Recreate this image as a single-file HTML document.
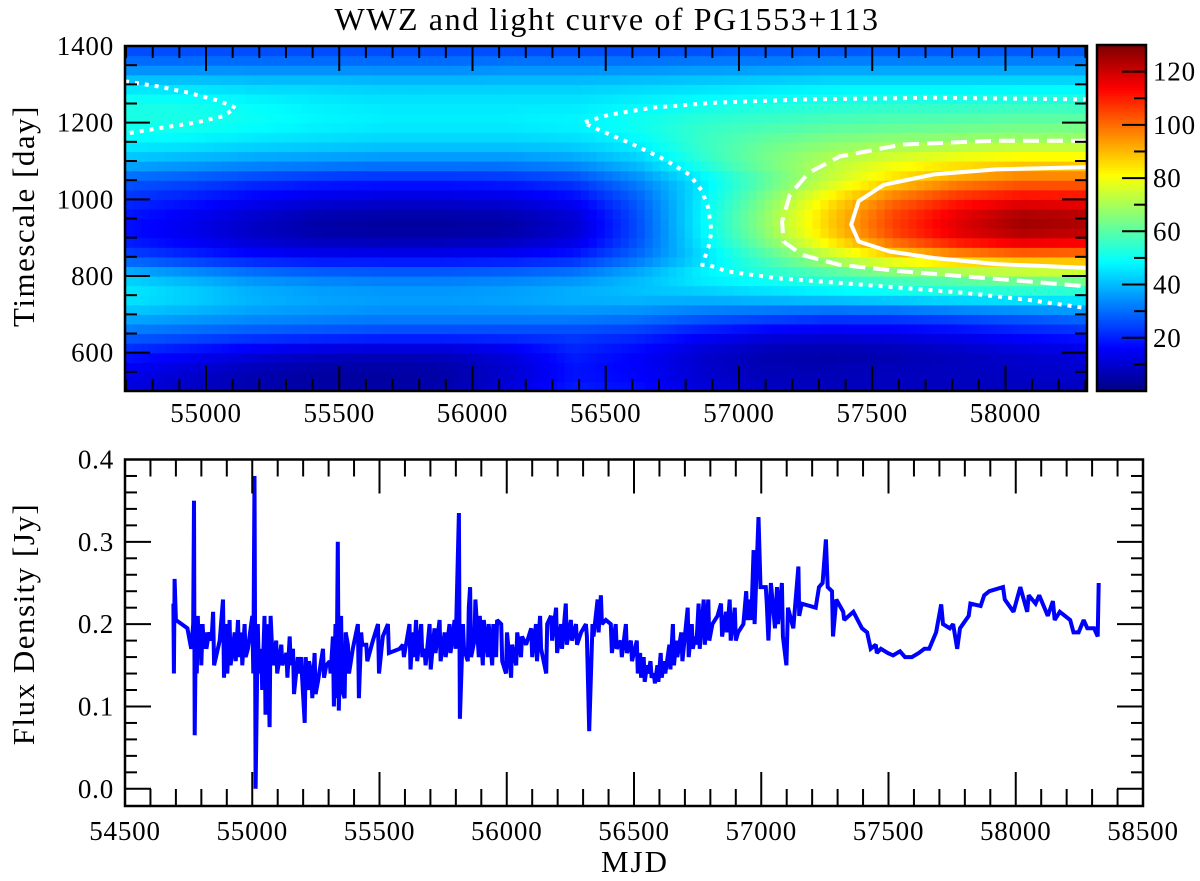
<!DOCTYPE html>
<html><head><meta charset="utf-8">
<style>
html,body{margin:0;padding:0;background:#fff;}
svg{display:block;font-family:"Liberation Serif",serif;}
</style></head>
<body>
<svg id="chart" width="1200" height="881" viewBox="0 0 1200 881" xmlns="http://www.w3.org/2000/svg">
<text x="607" y="30" font-size="32" letter-spacing="1.6" text-anchor="middle">WWZ and light curve of PG1553+113</text>
<g id="heat"></g>
<g id="contours"></g>
<g id="cbar"></g>
<g id="lc"></g>
<g id="axes"></g>
<text transform="translate(34,216) rotate(-90)" font-size="31" letter-spacing="1.5" text-anchor="middle">Timescale [day]</text>
<text transform="translate(34,624) rotate(-90)" font-size="31" letter-spacing="1.5" text-anchor="middle">Flux Density [Jy]</text>
<text x="635" y="872" font-size="31" letter-spacing="2" text-anchor="middle">MJD</text>
</svg>
<script>
// ---- heatmap data ----
const gridMjd = [54700,54940,55180,55420,55660,55900,56140,56380,56620,56860,57100,57340,57580,57820,58060,58300];
const gridScale = [1400,1350,1300,1250,1200,1150,1100,1050,1000,950,900,850,800,750,700,650,600,550,500];
const gridPower = [
[24,24,24,24,24,24,24,24,24,24,25,25,25,25,25,25],
[32,32,32,32,32,32,33,33,33,34,34,35,35,35,35,35],
[44,44,43,43,42,42,42,42,43,44,45,46,46,46,46,46],
[52,51,49,47,46,46,46,46,48,50,52,53,54,54,55,55],
[52,52,50,48,47,47,47,48,51,55,57,59,60,61,62,62],
[48,47,45,44,43,43,43,44,48,56,62,66,68,69,70,70],
[40,38,36,35,34,34,34,36,42,54,64,72,78,82,85,85],
[28,26,23,21,20,20,21,24,33,46,60,74,86,95,100,100],
[22,19,15,12,11,11,12,16,28,47,65,84,100,110,115,114],
[18,14,9,5,4,4,5,10,26,48,68,88,106,118,127,125],
[18,14,9,6,5,5,6,11,26,47,66,86,104,116,122,120],
[26,22,18,16,16,16,17,20,30,44,58,72,84,92,96,95],
[42,38,34,32,31,31,32,34,40,48,52,56,60,64,67,68],
[47,44,40,38,37,37,38,40,41,41,43,45,47,49,50,50],
[40,38,36,35,34,34,34,34,33,30,28,26,26,28,30,32],
[30,28,26,25,24,24,24,24,22,17,13,12,13,15,18,20],
[20,16,12,9,8,8,12,20,16,10,6,5,6,8,10,12],
[14,10,6,4,4,5,10,18,16,10,7,7,8,8,9,10],
[12,9,6,5,5,6,12,20,18,12,9,8,8,8,8,8]];
// contour data (MJD, timescale)
const dotLeftMjd = [54696,54818,54935,55053,55111,55064,54959,54818,54696];
const dotLeftT = [1308,1295,1278,1256,1239,1217,1200,1185,1171];
const dotMjd = [58306,57731,57261,56909,56674,56509,56415,56486,56603,56721,56815,56862,56885,56897,56885,56862,56885,56956,57144,57379,57613,57848,58083,58306];
const dotT = [1261,1265,1261,1252,1239,1220,1200,1178,1143,1104,1064,1021,977,916,873,829,829,812,794,782,769,756,738,716];
const dashMjd = [58306,57966,57613,57379,57261,57191,57162,57167,57237,57379,57613,57848,58083,58306];
const dashT = [1153,1153,1143,1112,1069,1012,943,890,855,829,812,799,786,773];
const solidMjd = [58306,57966,57731,57543,57449,57421,57449,57566,57731,57966,58306];
const solidT = [1084,1078,1065,1038,995,934,890,864,847,831,821];
// colorbar
const cbarTicks = [20,40,60,80,100,120];
// ---- light curve data ----
const lcMjd = [54690,54692,54695,54700,54745,54760,54768,54771,54774,54778,54782,54786,54790,54795,54800,54805,54810,54815,54820,54830,54840,54846,54850,54872,54885,54889,54898,54902,54911,54915,54931,54935,54944,54948,54957,54961,54970,54974,54983,55000,55004,55009,55013,55022,55026,55035,55039,55048,55052,55061,55065,55068,55072,55081,55094,55098,55114,55118,55134,55138,55147,55151,55160,55164,55179,55183,55192,55196,55206,55210,55219,55223,55232,55236,55245,55249,55258,55278,55282,55291,55304,55308,55317,55321,55327,55331,55336,55340,55349,55353,55363,55367,55376,55380,55395,55415,55419,55428,55432,55448,55452,55474,55494,55498,55513,55533,55537,55579,55592,55596,55618,55622,55631,55635,55644,55648,55664,55668,55677,55681,55697,55701,55716,55720,55736,55740,55756,55760,55775,55779,55795,55799,55812,55816,55828,55832,55847,55851,55856,55860,55873,55877,55890,55894,55906,55910,55925,55929,55943,55947,55958,55962,55978,55982,55997,56001,56017,56021,56037,56041,56056,56060,56076,56096,56100,56115,56119,56131,56135,56155,56159,56174,56178,56194,56198,56213,56217,56232,56236,56252,56256,56272,56276,56292,56311,56315,56324,56337,56341,56357,56361,56370,56374,56389,56409,56413,56428,56432,56448,56452,56468,56472,56488,56492,56511,56515,56524,56528,56538,56542,56551,56555,56565,56569,56578,56582,56592,56596,56605,56609,56619,56623,56639,56643,56653,56657,56666,56670,56686,56690,56711,56715,56727,56731,56741,56745,56754,56758,56774,56778,56792,56796,56808,56828,56842,56846,56862,56866,56876,56880,56896,56900,56909,56930,56941,56945,56957,56961,56970,56974,56989,56997,57018,57022,57028,57038,57054,57062,57066,57081,57085,57099,57105,57126,57130,57146,57149,57159,57214,57227,57241,57254,57261,57278,57282,57295,57322,57326,57362,57396,57416,57430,57450,57454,57470,57497,57518,57545,57565,57592,57619,57641,57660,57687,57707,57714,57741,57754,57770,57781,57815,57822,57862,57876,57896,57950,57957,57991,58018,58045,58051,58078,58092,58126,58146,58153,58173,58214,58227,58247,58267,58281,58308,58322,58326];
const lcFlux = [.225,.14,.255,.205,.195,.17,.2,.35,.065,.19,.14,.21,.16,.2,.15,.2,.17,.19,.17,.19,.18,.215,.15,.18,.23,.135,.2,.14,.205,.15,.19,.155,.205,.16,.19,.15,.2,.16,.17,.21,.14,.38,0.0,.2,.14,.17,.12,.21,.09,.2,.12,.075,.21,.15,.18,.14,.175,.15,.165,.135,.185,.15,.17,.115,.16,.14,.16,.135,.08,.16,.12,.155,.14,.11,.165,.115,.13,.17,.135,.15,.155,.14,.185,.1,.2,.11,.3,.095,.21,.12,.11,.19,.175,.14,.17,.2,.11,.19,.175,.175,.155,.18,.2,.14,.185,.2,.165,.17,.175,.16,.2,.145,.19,.16,.205,.155,.2,.16,.17,.15,.2,.145,.195,.165,.205,.155,.19,.16,.2,.165,.205,.17,.335,.085,.2,.17,.155,.22,.245,.16,.18,.23,.16,.21,.15,.205,.16,.2,.15,.2,.16,.205,.2,.155,.14,.19,.135,.175,.15,.19,.16,.185,.175,.195,.16,.2,.155,.21,.17,.14,.2,.21,.18,.22,.165,.2,.17,.225,.175,.205,.18,.2,.175,.19,.2,.185,.07,.2,.185,.23,.19,.235,.2,.205,.2,.165,.2,.17,.18,.16,.2,.165,.18,.155,.18,.14,.165,.135,.16,.13,.15,.14,.155,.135,.14,.128,.15,.13,.165,.135,.155,.14,.175,.145,.2,.15,.18,.16,.19,.155,.22,.16,.2,.17,.185,.175,.225,.17,.23,.175,.23,.18,.2,.21,.225,.185,.215,.19,.23,.18,.22,.18,.19,.2,.24,.205,.23,.205,.29,.2,.33,.245,.245,.225,.18,.25,.195,.245,.2,.25,.185,.15,.22,.195,.21,.27,.21,.225,.22,.245,.25,.303,.245,.24,.185,.23,.215,.205,.215,.195,.19,.17,.175,.165,.17,.165,.162,.167,.16,.16,.165,.17,.17,.19,.224,.2,.195,.2,.17,.195,.21,.225,.222,.235,.24,.245,.23,.215,.245,.215,.235,.225,.235,.21,.228,.205,.215,.205,.19,.19,.205,.195,.195,.185,.25];
const topXTicks = [55000,55500,56000,56500,57000,57500,58000];
const topYTicks = [600,800,1000,1200,1400];
const botXTicks = [54500,55000,55500,56000,56500,57000,57500,58000,58500];
const botYTicks = [0.0,0.1,0.2,0.3,0.4];

const NS="http://www.w3.org/2000/svg";
function mk(tag,attrs,parent){const e=document.createElementNS(NS,tag);for(const k in attrs)e.setAttribute(k,attrs[k]);parent.appendChild(e);return e;}
const T={l:125,r:1087,t:46,b:391,x0:54696,x1:58306,y0:500,y1:1400};
const B={l:125,r:1143,t:459.5,b:806,x0:54500,x1:58500,y0:-0.0209,y1:0.4};
const C={l:1097,r:1146,t:45,b:391,v0:0,v1:130};
const xT=m=>T.l+(m-T.x0)/(T.x1-T.x0)*(T.r-T.l);
const yT=v=>T.b-(v-T.y0)/(T.y1-T.y0)*(T.b-T.t);
const xB=m=>B.l+(m-B.x0)/(B.x1-B.x0)*(B.r-B.l);
const yB=v=>B.b-(v-B.y0)/(B.y1-B.y0)*(B.b-B.t);
const yC=v=>C.b-(v-C.v0)/(C.v1-C.v0)*(C.b-C.t);
function jet(v){let x=Math.max(0,Math.min(1,(v-C.v0)/(C.v1-C.v0)));
 const f=t=>Math.max(0,Math.min(1,1.5-Math.abs(4*x-t)));
 return `rgb(${Math.round(255*f(3))},${Math.round(255*f(2))},${Math.round(255*f(1))})`;}
function interp(arr,v){
 for(let i=0;i<arr.length-1;i++){const a=arr[i],b=arr[i+1];if((v-a)*(v-b)<=0){return i+(v-a)/(b-a);}}
 return v<arr[0]===(arr[0]<arr[1])?0:arr.length-1;}
function power(m,t){const fi=interp(gridMjd,m),fj=interp(gridScale,t);
 const i=Math.min(Math.floor(fi),gridMjd.length-2),j=Math.min(Math.floor(fj),gridScale.length-2);
 const u=fi-i,w=fj-j;
 return (1-u)*(1-w)*gridPower[j][i]+u*(1-w)*gridPower[j][i+1]+(1-u)*w*gridPower[j+1][i]+u*w*gridPower[j+1][i+1];}
const heat=document.getElementById('heat');
const dM=30,dT=25;
for(let t=T.y0;t<T.y1;t+=dT){for(let m=T.x0;m<T.x1;m+=dM){
 const m2=Math.min(m+dM,T.x1);
 const r=mk('rect',{x:xT(m).toFixed(2),y:yT(t+dT).toFixed(2),width:(xT(m2)-xT(m)+0.6).toFixed(2),height:(yT(t)-yT(t+dT)+0.6).toFixed(2),fill:jet(power(m+dM/2,t+dT/2))},heat);
 
 
}}
const cg=document.getElementById('contours');
function cline(ms,ts,dash,name){const d=ms.map((m,i)=>(i?'L':'M')+xT(m).toFixed(1)+' '+yT(ts[i]).toFixed(1)).join(' ');
 const p=mk('path',{d:d,fill:'none',stroke:'#fff','stroke-width':4,'stroke-dasharray':dash,'stroke-linejoin':'round'},cg);
 
 }
cline(dotLeftMjd,dotLeftT,'4 6','contour-dotted-left');
cline(dotMjd,dotT,'4 6','contour-dotted');
cline(dashMjd,dashT,'16 8','contour-dashed');
cline(solidMjd,solidT,'none','contour-solid');
const cb=document.getElementById('cbar');
for(let v=0;v<130;v+=1){const r=mk('rect',{x:C.l,y:yC(v+1).toFixed(2),width:C.r-C.l,height:(yC(v)-yC(v+1)+0.5).toFixed(2),fill:jet(v+0.5)},cb);
 
 }
const ax=document.getElementById('axes');
function line(x1,y1,x2,y2,w,name){const l=mk('line',{x1:x1,y1:y1,x2:x2,y2:y2,stroke:'#000','stroke-width':w},ax);
 
 }
function label(x,y,txt,anchor,name){const t=mk('text',{x:x,y:y,'font-size':27,'letter-spacing':0.8,'text-anchor':anchor},ax);t.textContent=txt;
 
 }
for(let v=10;v<130;v+=10){const maj=v%20===0;const y=yC(v);line(C.r-(maj?24:12),y,C.r,y,2,'colorbar-tick');}
cbarTicks.forEach(v=>label(1153,yC(v)+9,String(v),'start','colorbar-tick-label'));
const cf=mk('rect',{x:C.l,y:C.t,width:C.r-C.l,height:C.b-C.t,fill:'none',stroke:'#000','stroke-width':2.5},cb);


const lg=document.getElementById('lc');
const lp=mk('path',{d:lcMjd.map((m,i)=>(i?'L':'M')+xB(m).toFixed(1)+' '+yB(lcFlux[i]).toFixed(1)).join(' '),fill:'none',stroke:'#0000ff','stroke-width':4,'stroke-linejoin':'miter','stroke-miterlimit':2},lg);


for(let m=54700;m<=58300;m+=100){const maj=m%500===0;const x=xT(m);if(x<T.l||x>T.r)continue;const L=maj?25:12;
 line(x,T.b,x,T.b-L,2,'top-x-tick');line(x,T.t,x,T.t+L,2,'top-x-tick');}
for(let t=550;t<1400;t+=50){const maj=t%200===0;const y=yT(t);const L=maj?25:12;
 line(T.l,y,T.l+L,y,2,'top-y-tick');line(T.r,y,T.r-L,y,2,'top-y-tick');}
topXTicks.forEach(m=>label(xT(m),422,String(m),'middle','top-x-tick-label'));
topYTicks.forEach(t=>label(114,yT(t)+9,String(t),'end','top-y-tick-label'));
const tf=mk('rect',{x:T.l,y:T.t,width:T.r-T.l,height:T.b-T.t,fill:'none',stroke:'#000','stroke-width':2.5},ax);


for(let m=54600;m<58500;m+=100){const maj=m%500===0;const x=xB(m);const L=maj?34:17;
 line(x,B.b,x,B.b-L,2,'bottom-x-tick');line(x,B.t,x,B.t+L,2,'bottom-x-tick');}
for(let k=0;k<20;k++){const v=k*0.02;const maj=k%5===0;const y=yB(v);const L=maj?26:12;
 line(B.l,y,B.l+L,y,2,'bottom-y-tick');line(B.r,y,B.r-L,y,2,'bottom-y-tick');}
botXTicks.forEach(m=>label(xB(m),840,String(m),'middle','bottom-x-tick-label'));
botYTicks.forEach(v=>label(114,yB(v)+9,v.toFixed(1),'end','bottom-y-tick-label'));
const bf=mk('rect',{x:B.l,y:B.t,width:B.r-B.l,height:B.b-B.t,fill:'none',stroke:'#000','stroke-width':2.5},ax);


</script>
</body></html>
